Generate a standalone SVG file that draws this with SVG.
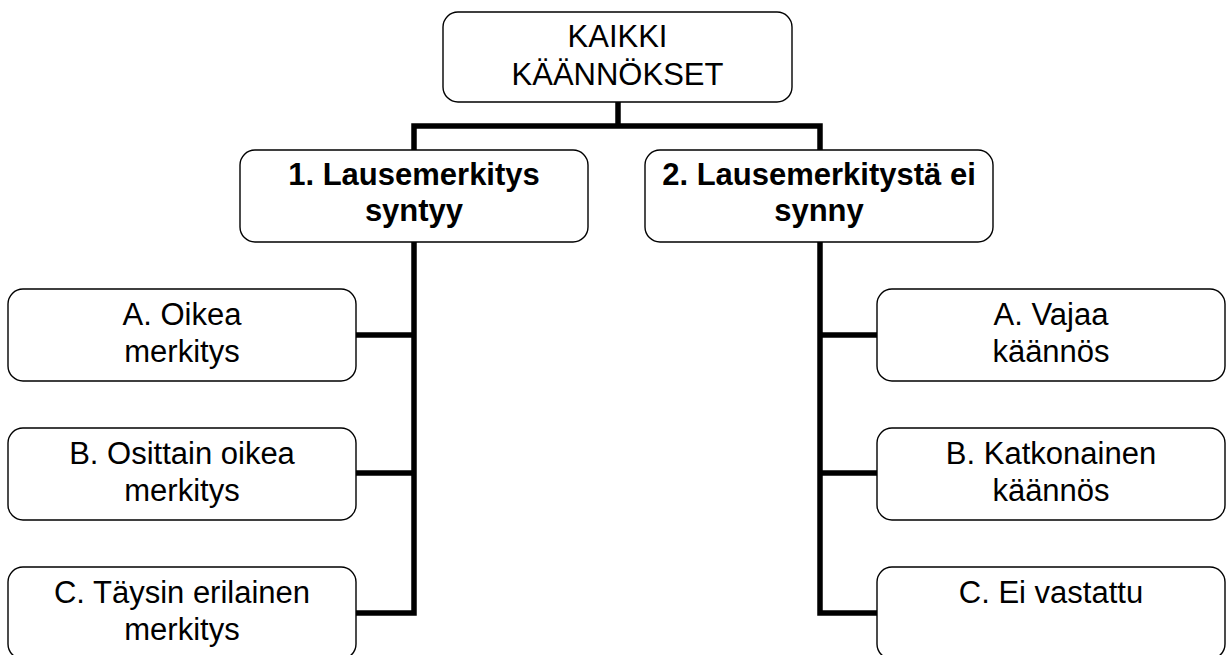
<svg xmlns="http://www.w3.org/2000/svg" width="1227" height="655" viewBox="0 0 1227 655">
<style>
.box{fill:#fff;stroke:#000;stroke-width:1.4}
.t{font-family:"Liberation Sans",Arial,sans-serif;font-size:31px;fill:#000;text-anchor:middle}
.b{font-weight:bold}
.c{fill:none;stroke:#000;stroke-width:5.5;stroke-linejoin:miter;stroke-linecap:butt}
</style>
<rect width="1227" height="655" fill="#fff"/>
<g id="connectors">
<path class="c" d="M618,102 V126"/>
<path class="c" d="M414,150 V126 H820 V150"/>
<path class="c" d="M414,242 V613 H356"/>
<path class="c" d="M414,335 H356 M414,473 H356"/>
<path class="c" d="M820,242 V613 H877"/>
<path class="c" d="M820,335 H877 M820,473 H877"/>
</g>
<g id="root">
<rect class="box" x="443" y="12" width="349" height="90" rx="15"/>
<text class="t" x="617.5" y="47">KAIKKI</text>
<text class="t" x="617.5" y="85">KÄÄNNÖKSET</text>
</g>
<g id="n1">
<rect class="box" x="240" y="150" width="348" height="92" rx="15"/>
<text class="t b" x="414" y="185">1. Lausemerkitys</text>
<text class="t b" x="414" y="221">syntyy</text>
</g>
<g id="n2">
<rect class="box" x="645" y="150" width="348" height="92" rx="15"/>
<text class="t b" x="819" y="185">2. Lausemerkitystä ei</text>
<text class="t b" x="819" y="221">synny</text>
</g>
<g id="n1a">
<rect class="box" x="8" y="289" width="348" height="92" rx="15"/>
<text class="t" x="182" y="325">A. Oikea</text>
<text class="t" x="182" y="362">merkitys</text>
</g>
<g id="n1b">
<rect class="box" x="8" y="428" width="348" height="92" rx="15"/>
<text class="t" x="182" y="464">B. Osittain oikea</text>
<text class="t" x="182" y="501">merkitys</text>
</g>
<g id="n1c">
<rect class="box" x="8" y="567" width="348" height="92" rx="15"/>
<text class="t" x="182" y="603">C. Täysin erilainen</text>
<text class="t" x="182" y="640">merkitys</text>
</g>
<g id="n2a">
<rect class="box" x="877" y="289" width="348" height="92" rx="15"/>
<text class="t" x="1051" y="325">A. Vajaa</text>
<text class="t" x="1051" y="362">käännös</text>
</g>
<g id="n2b">
<rect class="box" x="877" y="428" width="348" height="92" rx="15"/>
<text class="t" x="1051" y="464">B. Katkonainen</text>
<text class="t" x="1051" y="501">käännös</text>
</g>
<g id="n2c">
<rect class="box" x="877" y="567" width="348" height="92" rx="15"/>
<text class="t" x="1051" y="603">C. Ei vastattu</text>
</g>
</svg>
